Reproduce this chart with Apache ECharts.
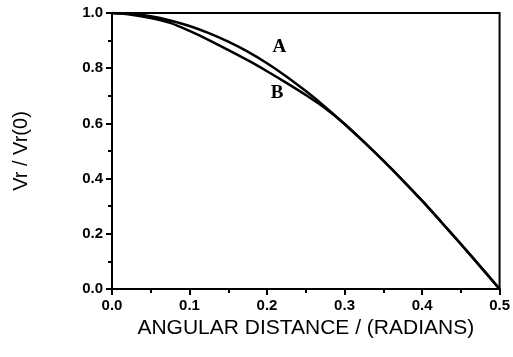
<!DOCTYPE html>
<html>
<head>
<meta charset="utf-8">
<script src="https://cdn.jsdelivr.net/npm/echarts@6/dist/echarts.min.js"></script>
<style>
  html, body { margin: 0; padding: 0; background: #fff; }
  #chart { width: 513px; height: 357px; }
</style>
</head>
<body>
<div id="chart"></div>
<script>
// Angular distance (radians) sampled along both curves
const angles = [0, 0.025, 0.05, 0.075, 0.1, 0.125, 0.15, 0.175, 0.2, 0.225, 0.25,
                0.275, 0.3, 0.325, 0.35, 0.375, 0.4, 0.425, 0.45, 0.475, 0.5];
// Normalised radial velocity Vr / Vr(0)
const curveA = [1.0, 0.997, 0.988, 0.973, 0.953, 0.927, 0.896, 0.860, 0.818, 0.770, 0.717,
                0.660, 0.598, 0.533, 0.465, 0.394, 0.320, 0.242, 0.163, 0.082, 0.0];
const curveB = [1.0, 0.994, 0.982, 0.964, 0.935, 0.902, 0.866, 0.829, 0.789, 0.747, 0.703,
                0.655, 0.598, 0.533, 0.465, 0.394, 0.320, 0.242, 0.163, 0.082, 0.0];
const xTicks = [0.0, 0.1, 0.2, 0.3, 0.4, 0.5];
const yTicks = [0.0, 0.2, 0.4, 0.6, 0.8, 1.0];
const curveNames = ['A', 'B'];
const nameAnchors = [[0.216, 0.876], [0.213, 0.71]];

const chart = echarts.init(document.getElementById('chart'), null, { renderer: 'canvas' });

const pairs = ys => angles.map((x, i) => [x, ys[i]]);
const labelFont = 'Liberation Sans, Arial, sans-serif';

const axisCommon = {
  axisLine: { show: true, lineStyle: { color: '#000', width: 2 } },
  axisTick: { show: true, inside: false, length: 6, lineStyle: { color: '#000', width: 2 } },
  minorTick: { show: true, splitNumber: 2, length: 4, lineStyle: { color: '#000', width: 2 } },
  splitLine: { show: false },
  axisLabel: {
    color: '#000', fontFamily: labelFont, fontSize: 15, fontWeight: 'bold', margin: 9,
    formatter: v => v.toFixed(1)
  }
};

chart.setOption({
  animation: false,
  backgroundColor: '#fff',
  grid: {
    left: 112, right: 8, top: 13, bottom: 68,
    show: true, borderColor: '#000', borderWidth: 2, backgroundColor: 'transparent'
  },
  xAxis: Object.assign({}, axisCommon, {
    type: 'value', min: xTicks[0], max: xTicks[xTicks.length - 1], interval: 0.1,
    name: 'ANGULAR DISTANCE / (RADIANS)', nameLocation: 'middle', nameGap: 29,
    nameTextStyle: { color: '#000', fontFamily: labelFont, fontSize: 21 }
  }),
  yAxis: Object.assign({}, axisCommon, {
    type: 'value', min: yTicks[0], max: yTicks[yTicks.length - 1], interval: 0.2,
    name: 'Vr / Vr(0)', nameLocation: 'middle', nameGap: 81,
    nameTextStyle: { color: '#000', fontFamily: labelFont, fontSize: 20 }
  }),
  series: [curveA, curveB].map((ys, i) => ({
    type: 'line',
    name: curveNames[i],
    data: pairs(ys),
    smooth: 0.3,
    showSymbol: false,
    lineStyle: { color: '#000', width: 2.5 },
    markPoint: {
      symbolSize: 0,
      data: [{ coord: nameAnchors[i], value: curveNames[i] }],
      label: {
        show: true, position: 'inside', formatter: curveNames[i],
        color: '#000', fontFamily: 'Liberation Serif, Times New Roman, serif',
        fontSize: 19, fontWeight: 'bold'
      }
    }
  }))
});
</script>
</body>
</html>
